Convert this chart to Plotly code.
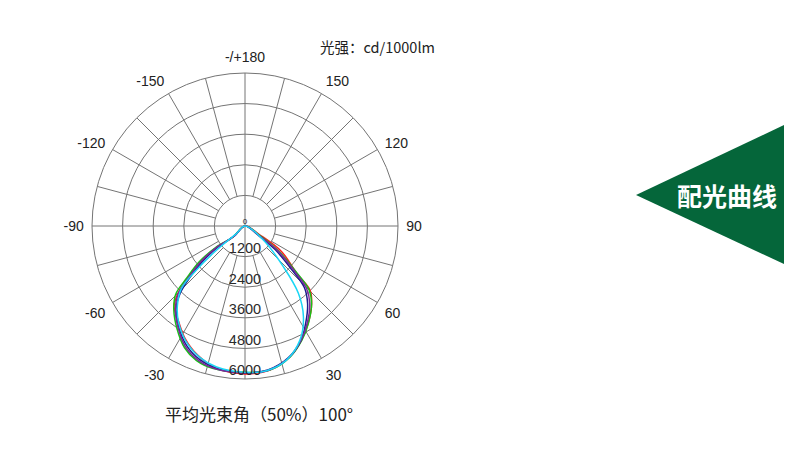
import plotly.graph_objects as go

# ---------------- data ----------------
radial_ticks = [1200, 2400, 3600, 4800, 6000]
angle_tickvals = [0, 30, 60, 90, 120, 150, 180, 210, 240, 270, 300, 330]
angle_ticktext = ["", "30", "60", "90", "120", "150", "-/+180",
                  "-150", "-120", "-90", "-60", "-30"]
spoke_angles = list(range(0, 360, 15))

# traced points along each curve: angle (deg, 0 = nadir) and intensity (cd/1000lm)
red_theta = [-47, -47, -53, -51, -48, -45, -41.5, -35, -28, -20, -11, 0,
             9.8, 19, 26.4, 33, 40.8, 45.4, 47.5, 55, 59, 59]
red_r = [0, 620, 1450, 2250, 3000, 3700, 4200, 4550, 5000, 5400, 5700, 5800,
         5730, 5420, 4990, 4550, 4000, 3580, 2750, 1755, 686, 0]

green_theta = [-46, -47.6, -53.9, -51.9, -48.3, -45.4, -40.5, -33.5, -26.4, -19.8, -12.5, 0,
               10, 19, 26.5, 33, 40.5, 45, 48, 53, 57, 57]
green_r = [0, 640, 1430, 2280, 3050, 3820, 4300, 4830, 5330, 5610, 5730, 5740,
           5730, 5430, 5000, 4560, 4020, 3560, 2700, 1700, 700, 0]

navy_theta = [-47, -47, -52, -50, -47, -44, -40, -33.5, -26, -18.5, -10, 0,
              9, 18, 26, 32.5, 39, 44, 47, 52, 55, 55]
navy_r = [0, 570, 1400, 2220, 2950, 3650, 4200, 4720, 5220, 5540, 5710, 5760,
          5720, 5450, 5000, 4450, 3900, 3350, 2500, 1500, 650, 0]

purple_theta = [-47, -47, -53, -51, -47.5, -44.5, -40, -33.5, -26.5, -19, -11, 0,
                9, 18.5, 26, 33, 40, 44.5, 47.5, 53, 56, 56]
purple_r = [0, 600, 1420, 2250, 3000, 3750, 4250, 4760, 5260, 5580, 5720, 5750,
            5740, 5440, 5000, 4500, 3950, 3450, 2650, 1600, 680, 0]

cyan_theta = [-48, -48.7, -49.7, -47.7, -45.5, -40.3, -34.7, -27.1, -19, -11.4, 0,
              8.5, 17.3, 25.8, 32.8, 38.4, 43.3, 52.6, 52.6]
cyan_r = [0, 450, 1500, 2650, 3500, 4100, 4580, 5080, 5450, 5640, 5740,
          5740, 5500, 4960, 4230, 3370, 2190, 905, 0]

series = [
    ("red", red_theta, red_r, "#ff1a1a"),
    ("green", green_theta, green_r, "#18c218"),
    ("navy", navy_theta, navy_r, "#1c1c8c"),
    ("purple", purple_theta, purple_r, "#7a2a9a"),
    ("cyan", cyan_theta, cyan_r, "#19d6f5"),
]

GRID = "#747474"
OFF = 8                      # page body margin
W, H = 800 - 2 * OFF, 458 - 2 * OFF


def px(x):
    return (x - OFF) / W


def py(y):
    return 1 - (y - OFF) / H


fig = go.Figure()

# angular spokes (only the 90-degree ones reach the centre)
sp_t, sp_r = [], []
for a in spoke_angles:
    r0 = 0 if a % 90 == 0 else radial_ticks[0]
    sp_t += [a, a, None]
    sp_r += [r0, radial_ticks[-1], None]
fig.add_trace(go.Scatterpolar(theta=sp_t, r=sp_r, mode="lines",
                              line=dict(color=GRID, width=1),
                              hoverinfo="skip", showlegend=False))

for name, th, rr, col in series:
    fig.add_trace(go.Scatterpolar(theta=th, r=rr, mode="lines", name=name,
                                  line=dict(color=col, width=1.5, shape="spline", smoothing=1),
                                  showlegend=False))

# radial labels along the 0-degree direction
fig.add_trace(go.Scatterpolar(theta=[0] * len(radial_ticks), r=radial_ticks,
                              mode="text", text=[str(v) for v in radial_ticks],
                              textposition="top center",
                              textfont=dict(family="Liberation Sans", size=14.5, color="#2a2a2a"),
                              hoverinfo="skip", showlegend=False))
fig.add_trace(go.Scatterpolar(theta=[0], r=[0], mode="text", text=["0"],
                              textposition="top center",
                              textfont=dict(family="Liberation Sans", size=8, color="#2a2a2a"),
                              hoverinfo="skip", showlegend=False))

cx, cy, R = 245, 226, 153
fig.update_layout(
    width=W, height=H,
    margin=dict(l=0, r=0, t=0, b=0),
    paper_bgcolor="white", plot_bgcolor="white",
    polar=dict(
        domain=dict(x=[px(cx - R), px(cx + R)], y=[py(cy + R), py(cy - R)]),
        bgcolor="white",
        radialaxis=dict(range=[0, 6000], tickvals=radial_ticks[:-1], showticklabels=False,
                        showline=False, ticks="", gridcolor=GRID, gridwidth=1),
        angularaxis=dict(rotation=-90, direction="counterclockwise",
                         tickvals=angle_tickvals, ticktext=angle_ticktext,
                         showgrid=False, ticks="outside", ticklen=5,
                         tickcolor="rgba(0,0,0,0)", showline=True,
                         linecolor=GRID, linewidth=1,
                         tickfont=dict(family="Liberation Sans", size=14, color="#222222")),
    ),
    font=dict(family="Liberation Sans"),
)

fig.add_annotation(text="光强：cd/1000lm", x=px(318), y=py(46), xref="paper", yref="paper",
                   xanchor="left", yanchor="middle", showarrow=False,
                   font=dict(family="Noto Sans CJK SC", size=14.5, color="#222222"))
fig.add_annotation(text="平均光束角（50%）100°", x=px(259), y=py(413), xref="paper", yref="paper",
                   xanchor="center", yanchor="middle", showarrow=False,
                   font=dict(family="Noto Sans CJK SC", size=17, color="#222222"))

# green banner
fig.add_shape(type="path", xref="paper", yref="paper",
              path=f"M {px(636)},{py(195)} L {px(784)},{py(125)} L {px(784)},{py(264)} Z",
              fillcolor="#05663a", line=dict(width=0))
fig.add_annotation(text="<b>配光曲线</b>", x=px(727), y=py(195), xref="paper", yref="paper",
                   xanchor="center", yanchor="middle", showarrow=False,
                   font=dict(family="Noto Sans CJK SC", size=25, color="white"))

fig.write_html("out.html")
